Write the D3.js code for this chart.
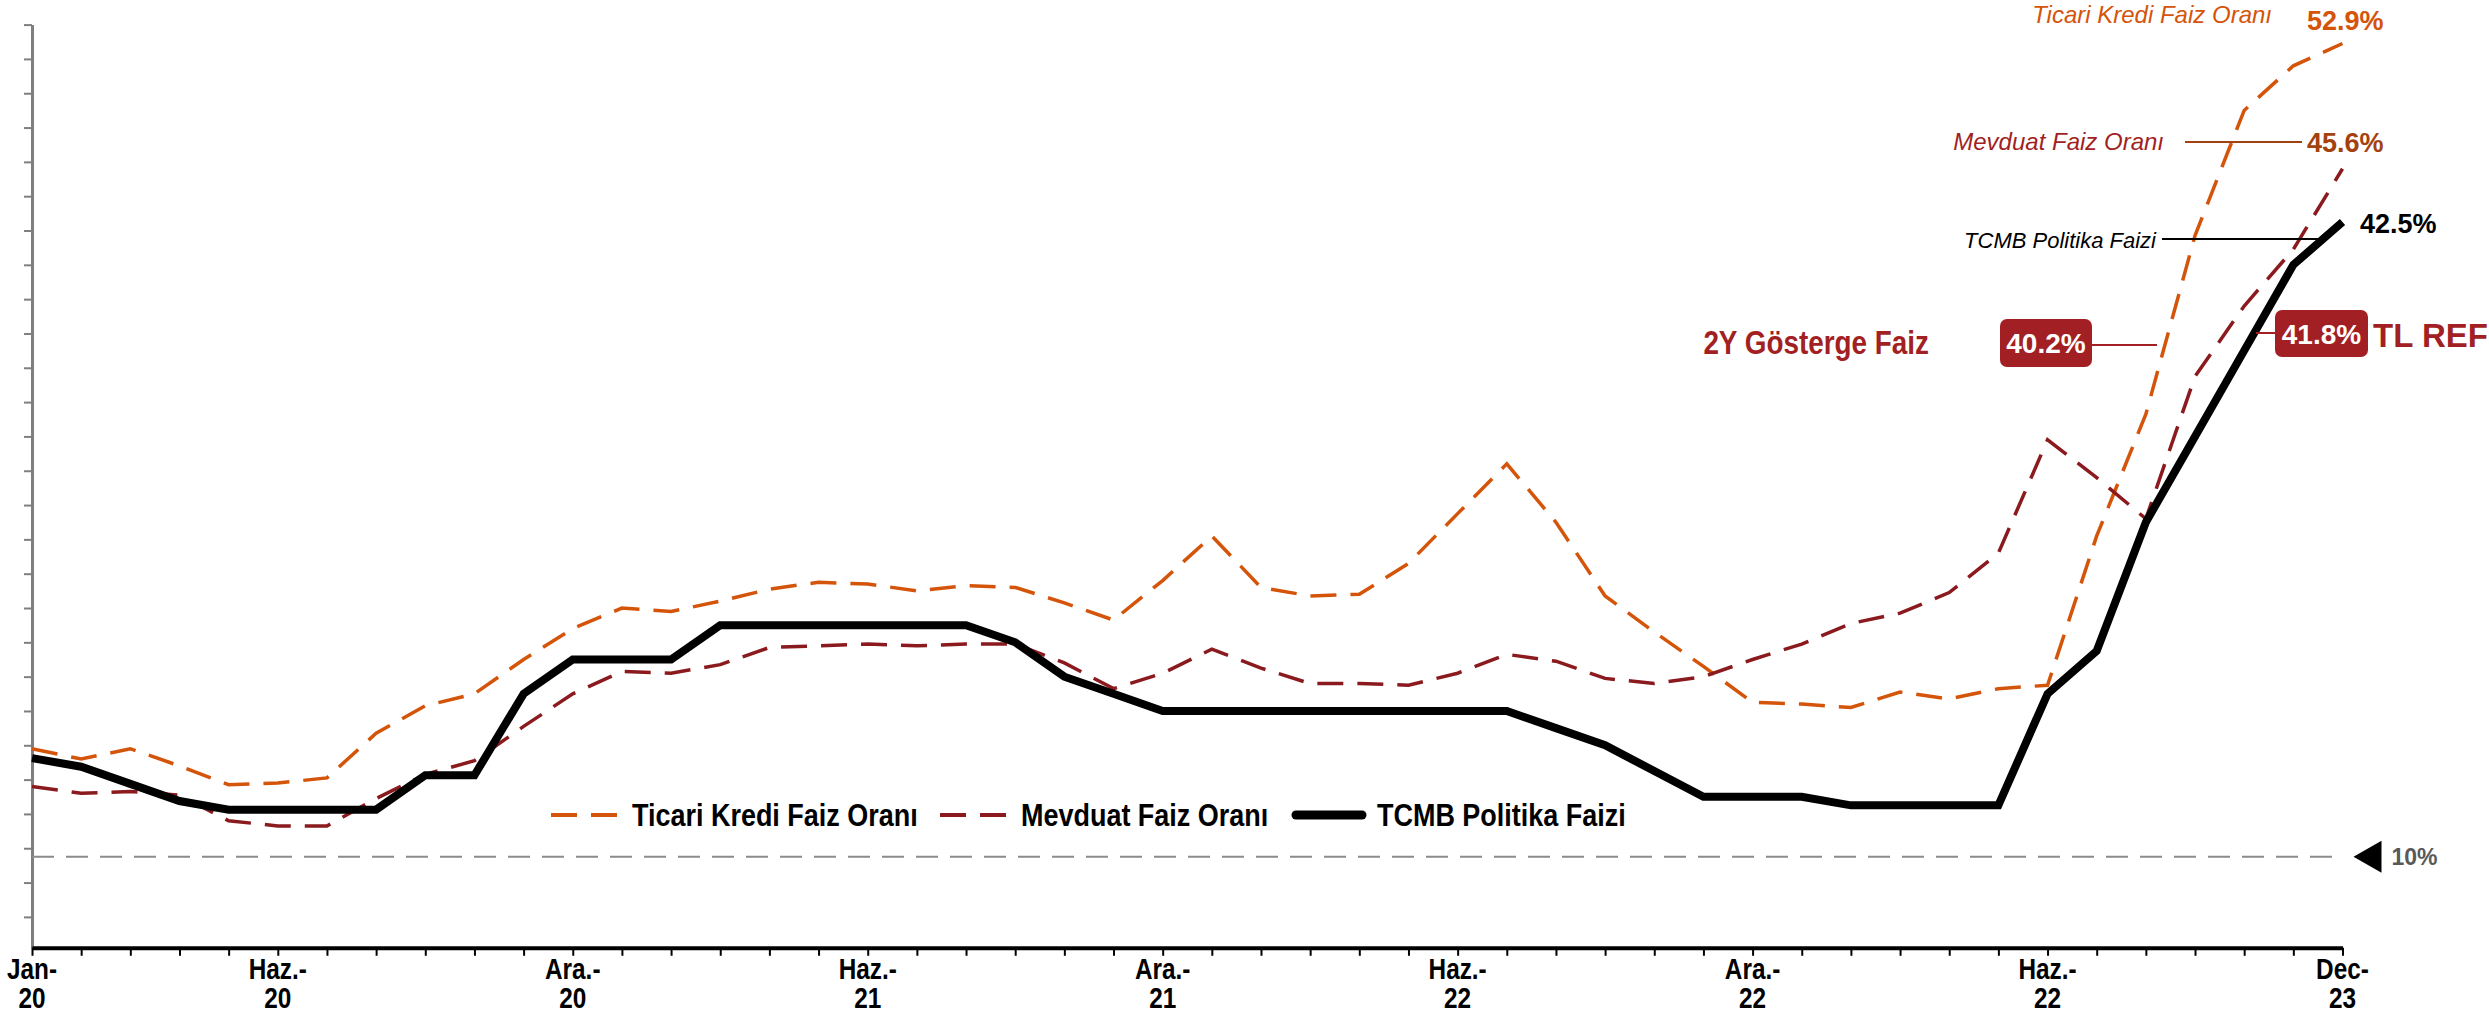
<!DOCTYPE html>
<html>
<head>
<meta charset="utf-8">
<script src="https://cdn.jsdelivr.net/npm/d3@7"></script>
<style>
  html, body { margin: 0; padding: 0; background: #ffffff; }
  svg { display: block; }
  text { font-family: "Liberation Sans", Arial, Helvetica, sans-serif; }
</style>
</head>
<body>
<svg id="chart" width="2489" height="1015"></svg>
<script>
// ---------- DATA ----------
const months = [
  "2020-01","2020-02","2020-03","2020-04","2020-05","2020-06","2020-07","2020-08","2020-09","2020-10","2020-11","2020-12",
  "2021-01","2021-02","2021-03","2021-04","2021-05","2021-06","2021-07","2021-08","2021-09","2021-10","2021-11","2021-12",
  "2022-01","2022-02","2022-03","2022-04","2022-05","2022-06","2022-07","2022-08","2022-09","2022-10","2022-11","2022-12",
  "2023-01","2023-02","2023-03","2023-04","2023-05","2023-06","2023-07","2023-08","2023-09","2023-10","2023-11","2023-12"
];
const ticariKredi = [
  11.8, 11.2, 11.8, 10.8, 9.7, 9.8, 10.1, 12.7, 14.3, 15.0, 17.0, 18.8,
  20.0, 19.8, 20.4, 21.1, 21.5, 21.4, 21.0, 21.3, 21.2, 20.3, 19.3, 21.6,
  24.2, 21.2, 20.7, 20.8, 22.6, 25.5, 28.4, 25.0, 20.7, 18.6, 16.6, 14.5,
  14.4, 14.2, 15.1, 14.7, 15.3, 15.5, 24.2, 31.3, 41.7, 49.0, 51.6, 52.9
];
const mevduat = [
  9.6, 9.2, 9.3, 9.1, 7.6, 7.3, 7.3, 8.9, 10.3, 11.1, 13.1, 15.0,
  16.3, 16.2, 16.7, 17.7, 17.8, 17.9, 17.8, 17.9, 17.9, 16.8, 15.3, 16.2,
  17.6, 16.5, 15.6, 15.6, 15.5, 16.2, 17.3, 16.9, 15.9, 15.6, 16.0, 17.0,
  17.9, 19.1, 19.7, 20.9, 23.2, 29.8, 27.6, 25.2, 33.5, 37.6, 40.9, 45.6
];
const tcmb = [
  11.25, 10.75, 9.75, 8.75, 8.25, 8.25, 8.25, 8.25, 10.25, 10.25, 15, 17,
  17, 17, 19, 19, 19, 19, 19, 19, 18, 16, 15, 14,
  14, 14, 14, 14, 14, 14, 14, 13, 12, 10.5, 9, 9,
  9, 8.5, 8.5, 8.5, 8.5, 15, 17.5, 25, 30, 35, 40, 42.5
];
const tickLabelIndex = [0, 5, 11, 17, 23, 29, 35, 41, 47];
const tickLabelTop    = ["Jan-", "Haz.-", "Ara.-", "Haz.-", "Ara.-", "Haz.-", "Ara.-", "Haz.-", "Dec-"];
const tickLabelBottom = ["20", "20", "20", "21", "21", "22", "22", "22", "23"];
const yTickValues = d3.range(2, 55, 2);
const yAxisMin = 0.2;
const refLineValue = 5.5;
const refLineLabel = "10%";
const seriesNames = ["Ticari Kredi Faiz Oranı", "Mevduat Faiz Oranı", "TCMB Politika Faizi"];
const endLabels = ["52.9%", "45.6%", "42.5%"];
const bondLabel = "2Y Gösterge Faiz";
const bondValue = "40.2%";
const tlrefLabel = "TL REF";
const tlrefValue = "41.8%";

// ---------- COLOURS ----------
const cOrange = "#D4540A";
const cMaroon = "#8B1A1E";
const cRed = "#A21F23";
const cBrown = "#A3420F";

// condensed text helper (horizontal compression like a narrow font)
function ctext(parent, x, y, sx, txt, opts) {
  const g = parent.append("g").attr("transform", `translate(${x},${y}) scale(${sx},1)`);
  const t = g.append("text").attr("x", 0).attr("y", 0).text(txt);
  Object.entries(opts || {}).forEach(([k, v]) => t.attr(k, v));
  return t;
}

// ---------- SCALES ----------
const svg = d3.select("#chart");
const x = d3.scalePoint().domain(months).range([32, 2342.5]);
const y = d3.scaleLinear().domain([0, 54]).range([951.2, 24.6]);
const yBase = y(yAxisMin);

// Y axis (grey, no labels)
const yAxis = svg.append("g").attr("transform", `translate(${x(months[0])},0)`)
  .call(d3.axisLeft(y.copy().domain([yAxisMin, 54]).range([yBase, 24.6]))
    .tickValues(yTickValues).tickSize(8).tickSizeOuter(0).tickFormat(""));
yAxis.select(".domain").attr("stroke", "#7f7f7f").attr("stroke-width", 3);
yAxis.selectAll(".tick line").attr("stroke", "#7f7f7f").attr("stroke-width", 2);

// reference dashed line
const refY = y(refLineValue);
svg.append("line")
  .attr("x1", x(months[0])).attr("x2", x(months[months.length - 1]))
  .attr("y1", refY).attr("y2", refY)
  .attr("stroke", "#8c8c8c").attr("stroke-width", 2).attr("stroke-dasharray", "22,12");
const triX = x(months[months.length - 1]) + 11;
svg.append("path")
  .attr("d", `M${triX},${refY} L${triX + 28},${refY - 16} L${triX + 28},${refY + 16} Z`)
  .attr("fill", "#000");
svg.append("text")
  .attr("x", triX + 38).attr("y", refY).attr("dy", "0.36em")
  .attr("font-size", 23).attr("font-weight", "bold").attr("fill", "#595959")
  .text(refLineLabel);

// ---------- LINES ----------
const lineGen = d3.line().x((d, i) => x(months[i])).y(d => y(d));
svg.append("path").datum(ticariKredi).attr("d", lineGen)
  .attr("fill", "none").attr("stroke", cOrange).attr("stroke-width", 3.5)
  .attr("stroke-dasharray", "26,14");
svg.append("path").datum(mevduat).attr("d", lineGen)
  .attr("fill", "none").attr("stroke", cMaroon).attr("stroke-width", 3.5)
  .attr("stroke-dasharray", "26,14");
svg.append("path").datum(tcmb).attr("d", lineGen)
  .attr("fill", "none").attr("stroke", "#000").attr("stroke-width", 8)
  .attr("stroke-linejoin", "miter");

// X axis (black)
const xAxis = svg.append("g").attr("transform", `translate(0,${yBase})`)
  .call(d3.axisBottom(x).tickSize(8).tickSizeOuter(0).tickFormat(""));
xAxis.select(".domain").attr("stroke", "#000").attr("stroke-width", 4);
xAxis.selectAll(".tick line").attr("stroke", "#000").attr("stroke-width", 2);

const labG = svg.append("g");
tickLabelIndex.forEach((idx, k) => {
  const opts = { "font-size": 29, "font-weight": "bold", "fill": "#000", "text-anchor": "middle" };
  ctext(labG, x(months[idx]), 979, 0.84, tickLabelTop[k], opts);
  ctext(labG, x(months[idx]), 1008, 0.84, tickLabelBottom[k], opts);
});

// ---------- LEGEND ----------
const legend = svg.append("g");
const legItems = [
  { name: seriesNames[0], color: cOrange, dash: "26,14", w: 4, x0: 551 },
  { name: seriesNames[1], color: cMaroon, dash: "26,14", w: 4, x0: 940 },
  { name: seriesNames[2], color: "#000", dash: null, w: 9, x0: 1296 }
];
const legY = 815;
legItems.forEach(it => {
  const l = legend.append("line")
    .attr("x1", it.x0).attr("x2", it.x0 + 66).attr("y1", legY).attr("y2", legY)
    .attr("stroke", it.color).attr("stroke-width", it.w);
  if (it.dash) l.attr("stroke-dasharray", it.dash);
  else l.attr("stroke-linecap", "round");
  ctext(legend, it.x0 + 81, legY, 0.87, it.name,
    { "dy": "0.36em", "font-size": 31, "font-weight": "bold", "fill": "#000" });
});

// ---------- ANNOTATIONS ----------
const ann = svg.append("g");
// Ticari
ann.append("text").attr("x", 2272).attr("y", 23).attr("text-anchor", "end")
  .attr("font-size", 24).attr("font-style", "italic").attr("fill", cOrange).text(seriesNames[0]);
ann.append("text").attr("x", 2307).attr("y", 30)
  .attr("font-size", 27).attr("font-weight", "bold").attr("fill", cOrange).text(endLabels[0]);
// Mevduat
ann.append("text").attr("x", 2164).attr("y", 150).attr("text-anchor", "end")
  .attr("font-size", 24).attr("font-style", "italic").attr("fill", cRed).text(seriesNames[1]);
ann.append("line").attr("x1", 2185).attr("x2", 2302).attr("y1", 142).attr("y2", 142)
  .attr("stroke", cBrown).attr("stroke-width", 2);
ann.append("text").attr("x", 2307).attr("y", 152)
  .attr("font-size", 27).attr("font-weight", "bold").attr("fill", cBrown).text(endLabels[1]);
// TCMB
ann.append("text").attr("x", 2156).attr("y", 248).attr("text-anchor", "end")
  .attr("font-size", 22).attr("font-style", "italic").attr("fill", "#000").text(seriesNames[2]);
ann.append("line").attr("x1", 2162).attr("x2", 2321).attr("y1", 239).attr("y2", 239)
  .attr("stroke", "#000").attr("stroke-width", 2);
ann.append("text").attr("x", 2360).attr("y", 233)
  .attr("font-size", 27).attr("font-weight", "bold").attr("fill", "#000").text(endLabels[2]);
// 2Y bond
ctext(ann, 1929, 354, 0.82, bondLabel,
  { "text-anchor": "end", "font-size": 34, "font-weight": "bold", "fill": cRed });
ann.append("rect").attr("x", 2000).attr("y", 319).attr("width", 92).attr("height", 48).attr("rx", 7)
  .attr("fill", cRed);
ann.append("text").attr("x", 2046).attr("y", 343).attr("dy", "0.36em").attr("text-anchor", "middle")
  .attr("font-size", 28).attr("font-weight", "bold").attr("fill", "#fff").text(bondValue);
ann.append("line").attr("x1", 2092).attr("x2", 2157).attr("y1", 345).attr("y2", 345)
  .attr("stroke", cRed).attr("stroke-width", 2);
// TL REF
ann.append("line").attr("x1", 2256).attr("x2", 2275).attr("y1", 333).attr("y2", 333)
  .attr("stroke", cRed).attr("stroke-width", 2);
ann.append("rect").attr("x", 2275).attr("y", 310).attr("width", 93).attr("height", 47).attr("rx", 7)
  .attr("fill", cRed);
ann.append("text").attr("x", 2321.5).attr("y", 333.5).attr("dy", "0.36em").attr("text-anchor", "middle")
  .attr("font-size", 28).attr("font-weight", "bold").attr("fill", "#fff").text(tlrefValue);
ann.append("text").attr("x", 2373).attr("y", 347)
  .attr("font-size", 33).attr("font-weight", "bold").attr("fill", cRed).text(tlrefLabel);
</script>
</body>
</html>
